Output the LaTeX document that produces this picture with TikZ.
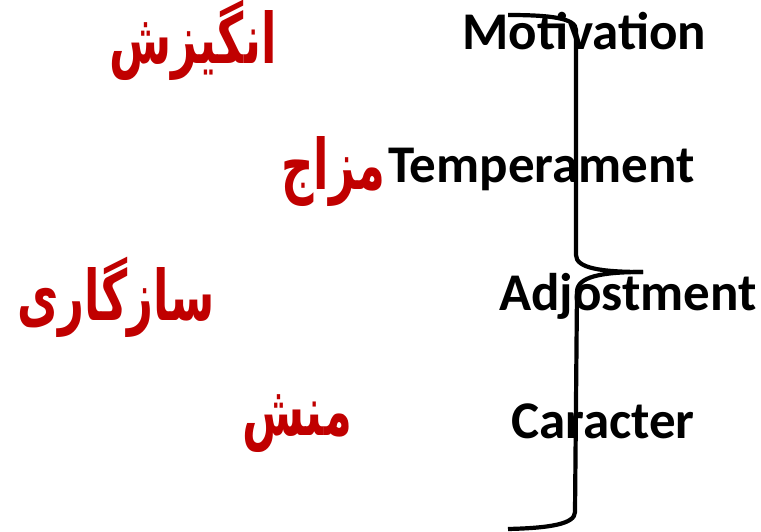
\documentclass[tikz,border=0pt]{standalone}
\usepackage{fontspec}
\setmainfont{Carlito}
\newfontfamily\farsifont[Script=Arabic]{DejaVu Sans}
\TeXXeTstate=1
\usepackage{tikz}
\definecolor{darkred}{RGB}{192,0,0}
\tikzset{
  eng/.style={anchor=base west,inner sep=0pt,font=\fontsize{53}{60}\selectfont\bfseries},
  fa/.style={inner sep=0pt,text=darkred,yscale=1.55,font=\farsifont\fontsize{45}{50}\selectfont\bfseries},
  bracket/.style={line width=4.2pt,line join=round}
}

\begin{document}
\begin{tikzpicture}[x=1pt,y=-1pt]
   \useasboundingbox (0,0) rectangle (761,532);
   % English words
   \node[eng] (motiv) at (462,50) {Motivation};
   \node[eng] (temper) at (388,183) {Temperament};
   \node[eng] (adjust) at (499,310) {Adjostment};
   \node[eng] (carac) at (511,438) {Caracter};
   % Persian words
   \node[fa] (angizesh) at (193,40) {\beginR انگیزش\endR};
   \node[fa] (mezaj) at (333,172) {\beginR مزاج\endR};
   \node[fa] (sazgari) at (116,297) {\beginR سازگاری\endR};
   \node[fa] (manesh) at (297,424) {\beginR منش\endR};
   % Brace
   \draw[bracket] (508,15) .. controls (550,15) and (576,18) .. (576,30)
      -- (576,255) .. controls (576,268) and (600,272) .. (643,272);
   \draw[bracket] (643,272) .. controls (600,272) and (577,277) .. (577,292)
      -- (575,512) .. controls (575,524) and (550,528) .. (508,529);
\end{tikzpicture}
\end{document}
